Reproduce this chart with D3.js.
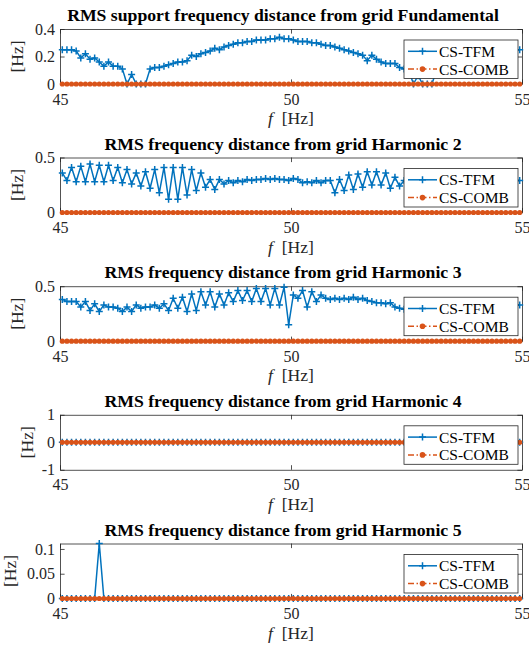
<!DOCTYPE html>
<html>
<head>
<meta charset="utf-8">
<script src="https://cdn.jsdelivr.net/npm/d3@7"></script>
<style>
  body { margin: 0; background: #fff; }
  svg { display: block; }
  svg text { font-family: "Liberation Serif", "Times New Roman", "DejaVu Serif", serif; }
</style>
</head>
<body>
<script>
// ---- data ----
// frequency grid: 100 points, 45.05 ... 54.95 Hz
const freq = [45.05,45.15,45.25,45.35,45.45,45.55,45.65,45.75,45.85,45.95,
  46.05,46.15,46.25,46.35,46.45,46.55,46.65,46.75,46.85,46.95,
  47.05,47.15,47.25,47.35,47.45,47.55,47.65,47.75,47.85,47.95,
  48.05,48.15,48.25,48.35,48.45,48.55,48.65,48.75,48.85,48.95,
  49.05,49.15,49.25,49.35,49.45,49.55,49.65,49.75,49.85,49.95,
  50.05,50.15,50.25,50.35,50.45,50.55,50.65,50.75,50.85,50.95,
  51.05,51.15,51.25,51.35,51.45,51.55,51.65,51.75,51.85,51.95,
  52.05,52.15,52.25,52.35,52.45,52.55,52.65,52.75,52.85,52.95,
  53.05,53.15,53.25,53.35,53.45,53.55,53.65,53.75,53.85,53.95,
  54.05,54.15,54.25,54.35,54.45,54.55,54.65,54.75,54.85,54.95];

const tfmFund = [0.25,0.25,0.25,0.24,0.19,0.22,0.18,0.19,0.16,0.13,
  0.16,0.13,0.13,0.11,0.00,0.07,0.00,0.00,0.00,0.11,
  0.12,0.12,0.13,0.14,0.15,0.16,0.16,0.17,0.21,0.20,
  0.22,0.23,0.24,0.26,0.25,0.27,0.28,0.29,0.30,0.30,
  0.31,0.31,0.32,0.32,0.32,0.33,0.33,0.34,0.33,0.33,
  0.32,0.31,0.31,0.31,0.30,0.30,0.29,0.28,0.28,0.27,
  0.26,0.25,0.24,0.23,0.22,0.21,0.17,0.21,0.18,0.16,
  0.15,0.15,0.15,0.12,0.11,0.10,0.00,0.06,0.00,0.00,
  0.00,0.10,0.11,0.13,0.13,0.16,0.13,0.16,0.19,0.18,
  0.22,0.19,0.24,0.25,0.25,0.25,0.25,0.25,0.25,0.25];

const tfmH2 = [0.36,0.29,0.41,0.28,0.42,0.28,0.44,0.28,0.43,0.28,
  0.43,0.29,0.41,0.27,0.39,0.26,0.36,0.24,0.37,0.22,
  0.39,0.18,0.41,0.12,0.41,0.12,0.41,0.16,0.39,0.20,
  0.36,0.23,0.30,0.21,0.30,0.26,0.29,0.27,0.29,0.28,
  0.30,0.29,0.30,0.30,0.31,0.30,0.31,0.30,0.30,0.29,
  0.31,0.30,0.27,0.28,0.27,0.29,0.27,0.29,0.29,0.18,
  0.30,0.20,0.34,0.21,0.35,0.23,0.37,0.25,0.37,0.25,
  0.36,0.22,0.32,0.24,0.29,0.23,0.31,0.25,0.31,0.26,
  0.30,0.27,0.30,0.27,0.30,0.28,0.30,0.28,0.29,0.28,
  0.29,0.28,0.29,0.28,0.29,0.29,0.29,0.29,0.29,0.29];

const tfmH3 = [0.38,0.36,0.36,0.36,0.31,0.36,0.28,0.34,0.27,0.33,
  0.31,0.31,0.30,0.27,0.31,0.27,0.33,0.30,0.31,0.31,
  0.33,0.30,0.34,0.28,0.39,0.30,0.40,0.27,0.43,0.28,
  0.45,0.33,0.45,0.31,0.43,0.33,0.44,0.36,0.46,0.37,
  0.46,0.36,0.48,0.36,0.48,0.33,0.48,0.33,0.49,0.15,
  0.42,0.39,0.46,0.31,0.45,0.36,0.42,0.39,0.38,0.39,
  0.38,0.39,0.38,0.40,0.38,0.39,0.37,0.36,0.35,0.35,
  0.34,0.35,0.31,0.30,0.29,0.30,0.31,0.30,0.32,0.31,
  0.32,0.31,0.32,0.32,0.33,0.32,0.33,0.32,0.33,0.33,
  0.33,0.33,0.33,0.33,0.33,0.33,0.33,0.33,0.33,0.33];

const tfmH4 = [0,0,0,0,0,0,0,0,0,0, 0,0,0,0,0,0,0,0,0,0,
  0,0,0,0,0,0,0,0,0,0, 0,0,0,0,0,0,0,0,0,0,
  0,0,0,0,0,0,0,0,0,0, 0,0,0,0,0,0,0,0,0,0,
  0,0,0,0,0,0,0,0,0,0, 0,0,0,0,0,0,0,0,0,0,
  0,0,0,0,0,0,0,0,0,0, 0,0,0,0,0,0,0,0,0,0];

const tfmH5 = [0,0,0,0,0,0,0,0,0.111,0, 0,0,0,0,0,0,0,0,0,0,
  0,0,0,0,0,0,0,0,0,0, 0,0,0,0,0,0,0,0,0,0,
  0,0,0,0,0,0,0,0,0,0, 0,0,0,0,0,0,0,0,0,0,
  0,0,0,0,0,0,0,0,0,0, 0,0,0,0,0,0,0,0,0,0,
  0,0,0,0,0,0,0,0,0,0, 0,0,0,0,0,0,0,0,0,0];

// CS-COMB is zero everywhere, in every panel
const csComb = [0,0,0,0,0,0,0,0,0,0, 0,0,0,0,0,0,0,0,0,0,
  0,0,0,0,0,0,0,0,0,0, 0,0,0,0,0,0,0,0,0,0,
  0,0,0,0,0,0,0,0,0,0, 0,0,0,0,0,0,0,0,0,0,
  0,0,0,0,0,0,0,0,0,0, 0,0,0,0,0,0,0,0,0,0,
  0,0,0,0,0,0,0,0,0,0, 0,0,0,0,0,0,0,0,0,0];

const titles = [
  "RMS support frequency distance from grid Fundamental",
  "RMS frequency distance from grid Harmonic 2",
  "RMS frequency distance from grid Harmonic 3",
  "RMS frequency distance from grid Harmonic 4",
  "RMS frequency distance from grid Harmonic 5"
];
const tfmSeries = [tfmFund, tfmH2, tfmH3, tfmH4, tfmH5];
const yDomains = [[0, 0.4], [0, 0.5], [0, 0.5], [-1, 1], [0, 0.111]];
const yTicks = [[0, 0.2, 0.4], [0, 0.5], [0, 0.5], [-1, 0, 1], [0, 0.05, 0.1]];
const xDomain = [45, 55];
const xTicks = [45, 50, 55];
const legendLabels = ["CS-TFM", "CS-COMB"];

// ---- layout ----
const width = 529, height = 649;
const left = 60, right = 522, plotH = 55;
const tops = [29, 157.5, 286.2, 414.8, 543.5];
const ylabelX = [17, 17, 17, 27, 10];
const tickLen = 4.6;
const blue = "#0072BD", orange = "#D95319", axisCol = "#262626";

const svg = d3.select("body").append("svg")
  .attr("width", width)
  .attr("height", height)
  .attr("viewBox", [0, 0, width, height]);

const x = d3.scaleLinear().domain(xDomain).range([left, right]);
const plus = "M-3.5,0H3.5M0,-3.5V3.5";

titles.forEach((title, i) => {
  const top = tops[i], bottom = top + plotH;
  const y = d3.scaleLinear().domain(yDomains[i]).range([bottom, top]);
  const g = svg.append("g");

  // axes (ticks point inward, like MATLAB)
  g.append("g")
    .attr("transform", `translate(0,${bottom})`)
    .call(d3.axisBottom(x).tickValues(xTicks).tickSizeInner(-tickLen).tickSizeOuter(0).tickPadding(9.2).tickFormat(d3.format("d")));
  g.append("g")
    .attr("transform", `translate(0,${top})`)
    .call(d3.axisTop(x).tickValues(xTicks).tickSizeInner(-tickLen).tickSizeOuter(0).tickFormat(""));
  g.append("g")
    .attr("transform", `translate(${left},0)`)
    .call(d3.axisLeft(y).tickValues(yTicks[i]).tickSizeInner(-tickLen).tickSizeOuter(0).tickPadding(5).tickFormat(d => String(d)));
  g.append("g")
    .attr("transform", `translate(${right},0)`)
    .call(d3.axisRight(y).tickValues(yTicks[i]).tickSizeInner(-tickLen).tickSizeOuter(0).tickFormat(""));
  g.selectAll("g").attr("font-family", null);
  g.selectAll(".domain, .tick line").attr("stroke", axisCol).attr("stroke-width", 0.8);
  g.selectAll(".tick text").attr("fill", axisCol).attr("font-size", 16);

  // title
  g.append("text")
    .attr("x", 283).attr("y", top - 8)
    .attr("text-anchor", "middle")
    .attr("font-size", 17.7).attr("font-weight", "bold")
    .attr("fill", "#000")
    .text(title);

  // x label
  const xl = g.append("text")
    .attr("x", (left + right) / 2).attr("y", bottom + 40)
    .attr("text-anchor", "middle")
    .attr("font-size", 17.6).attr("fill", axisCol);
  xl.append("tspan").attr("font-style", "italic").text("f");
  xl.append("tspan").text("\u2002[Hz]");

  // y label
  g.append("text")
    .attr("transform", `translate(${ylabelX[i]},${(top + bottom) / 2}) rotate(-90)`)
    .attr("dy", "0.35em")
    .attr("text-anchor", "middle")
    .attr("font-size", 17.6).attr("fill", axisCol)
    .text("[Hz]");

  // CS-TFM
  const tfm = tfmSeries[i];
  const line = d3.line().x((d, k) => x(freq[k])).y(d => y(d));
  g.append("path").datum(tfm)
    .attr("fill", "none").attr("stroke", blue).attr("stroke-width", 1.5)
    .attr("d", line);
  g.selectAll(".mk-tfm").data(tfm).join("path")
    .attr("class", "mk-tfm")
    .attr("transform", (d, k) => `translate(${x(freq[k])},${y(d)})`)
    .attr("d", plus)
    .attr("stroke", blue).attr("stroke-width", 1.5).attr("fill", "none");

  // CS-COMB
  g.append("path").datum(csComb)
    .attr("fill", "none").attr("stroke", orange).attr("stroke-width", 1.5)
    .attr("stroke-dasharray", "6,2.5,1.5,2.5")
    .attr("d", line);
  g.selectAll(".mk-comb").data(csComb).join("circle")
    .attr("class", "mk-comb")
    .attr("cx", (d, k) => x(freq[k])).attr("cy", d => y(d))
    .attr("r", 2.6).attr("fill", orange);

  // legend
  const lg = g.append("g").attr("transform", `translate(404,${top + 11})`);
  lg.append("rect")
    .attr("width", 114).attr("height", 38.5)
    .attr("fill", "#fff").attr("stroke", axisCol).attr("stroke-width", 0.8);
  legendLabels.forEach((lab, j) => {
    const ly = 11.3 + j * 17.8;
    lg.append("line")
      .attr("x1", 4).attr("x2", 33).attr("y1", ly).attr("y2", ly)
      .attr("stroke", j ? orange : blue).attr("stroke-width", 1.5)
      .attr("stroke-dasharray", j ? "6,2.5,1.5,2.5" : null);
    if (j) {
      lg.append("circle").attr("cx", 18.5).attr("cy", ly).attr("r", 2.8).attr("fill", orange);
    } else {
      lg.append("path").attr("transform", `translate(18.5,${ly})`).attr("d", plus)
        .attr("stroke", blue).attr("stroke-width", 1.5);
    }
    lg.append("text")
      .attr("x", 35).attr("y", ly).attr("dy", "0.35em")
      .attr("font-size", 15.5).attr("fill", "#000")
      .text(lab);
  });
});
</script>
</body>
</html>
